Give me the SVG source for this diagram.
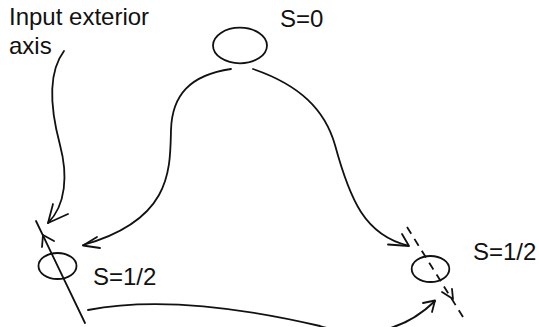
<svg xmlns="http://www.w3.org/2000/svg" width="539" height="327" viewBox="0 0 539 327">
<style>
.n{fill:none;stroke:#111;stroke-width:1.8}
.c{fill:none;stroke:#111;stroke-width:1.8;stroke-linecap:round;stroke-linejoin:round}
.d{stroke-dasharray:8 6;stroke-linecap:butt}
text{font-family:"Liberation Sans",Arial,sans-serif;font-size:24px;fill:#111}
</style>
<rect width="539" height="327" fill="#fff"/>
<g id="label-input">
<text x="9" y="25">Input exterior</text>
<text x="9" y="54">axis</text>
</g>
<g id="node-s0">
<ellipse class="n" cx="240" cy="45.5" rx="27" ry="17.8"/>
<text x="280" y="27">S=0</text>
</g>
<g id="node-left">
<ellipse class="n" cx="57.5" cy="266" rx="19" ry="13"/>
<text x="93" y="285">S=1/2</text>
</g>
<g id="node-right">
<ellipse class="n" cx="430.5" cy="269" rx="18.8" ry="13"/>
<text x="473" y="260">S=1/2</text>
</g>
<g id="connectors">
<path class="c" d="M64,51 C46,75 52,115 60,145 C68,175 66,205 48,223"/>
<path class="c" d="M53,204 L48,223 L68,214"/>
<path class="c" d="M231,69 C190,75 172,95 171,130 C170,170 172,220 83,245"/>
<path class="c" d="M97,237 L83,245.5 L100,248"/>
<path class="c" d="M253,69 C300,85 325,110 335,145 C350,200 365,235 408,245.5"/>
<path class="c" d="M388,244.5 L409,246 L402,234"/>
<path class="c" d="M36,221 L85,323"/>
<path class="c" d="M42,247 L43,235 L54,241"/>
<path class="c d" d="M407,227 L463,317"/>
<path class="c" d="M442,292 L453,299 L452,289"/>
<path class="c" d="M88,310 C150,298 230,305 320,326 C360,338 400,335 435,301"/>
<path class="c" d="M423,303 L435,300.5 L432,312"/>
</g>
</svg>
